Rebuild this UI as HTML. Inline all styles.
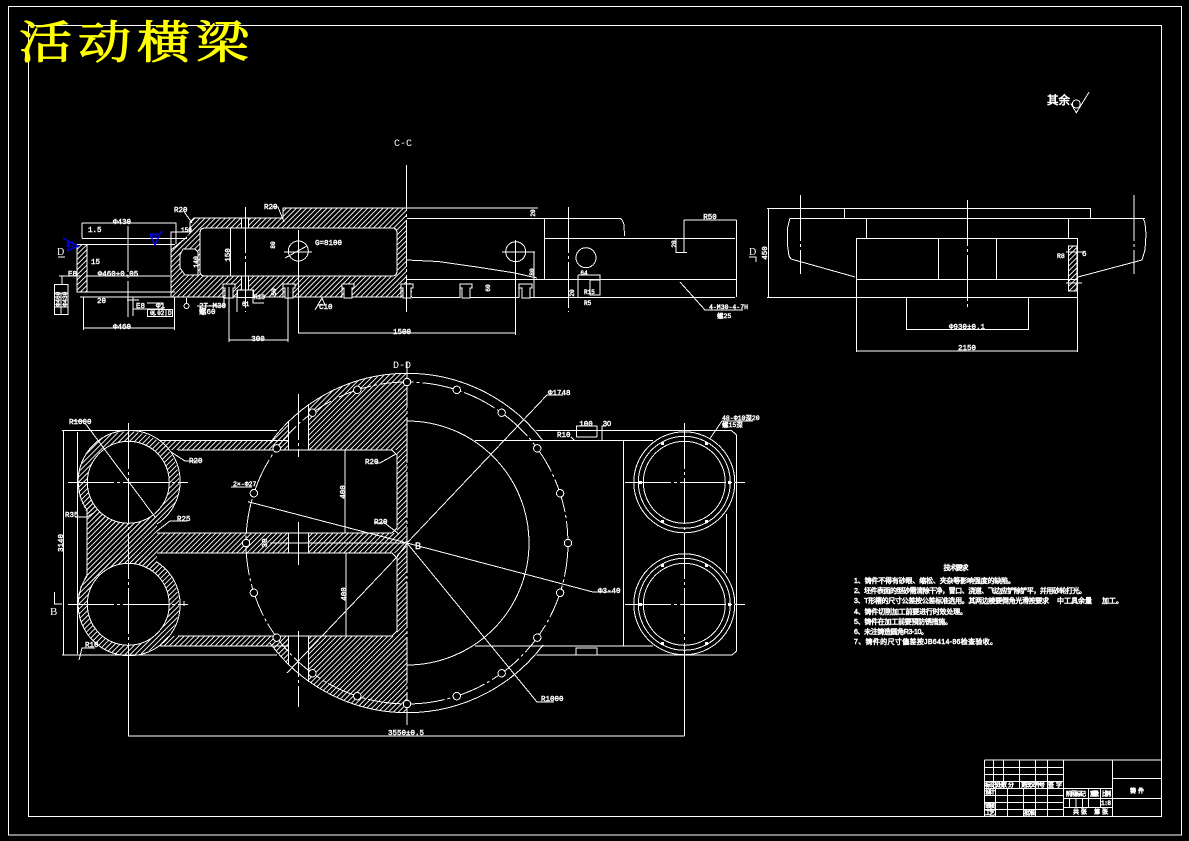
<!DOCTYPE html>
<html><head><meta charset="utf-8"><title>活动横梁</title>
<style>
html,body{margin:0;padding:0;background:#000;width:1189px;height:841px;overflow:hidden}
svg{display:block}
.l{fill:none;stroke:#fff;stroke-width:1}
.c{fill:none;stroke:#fff;stroke-width:1;stroke-dasharray:46 3 3 3}
.k{fill:#000;stroke:#fff;stroke-width:1}
.t{font-family:"Liberation Mono","Noto Sans CJK SC",monospace;font-size:7.5px;fill:#fff;stroke:#fff;stroke-width:.45}
.m{text-anchor:middle}
.cn{font-family:"Liberation Sans","Noto Sans CJK SC",sans-serif;font-size:7px;fill:#fff;stroke:#fff;stroke-width:.55}
.s{font-family:"Liberation Serif",serif;fill:#fff}
</style></head><body>
<svg width="1189" height="841" viewBox="0 0 1189 841" xmlns="http://www.w3.org/2000/svg" shape-rendering="crispEdges">
<defs>
<pattern id="h" width="3.6" height="3.6" patternUnits="userSpaceOnUse" patternTransform="rotate(45)">
<rect x="0" y="0" width="1" height="3.6" fill="#fff"/>
</pattern>
<g id="b"><circle cx="568" cy="543" r="3.7" class="k"/></g>
</defs>
<rect width="1189" height="841" fill="#000"/>
<!-- frames -->
<rect x="8.5" y="6.5" width="1173" height="828.5" class="l"/>
<rect x="28.5" y="25.5" width="1133" height="791" class="l"/>

<!-- title -->
<text transform="translate(19,58) scale(1.18,1)" letter-spacing="5" style="font-family:'Liberation Serif','Noto Serif CJK SC',serif;font-size:45px;fill:#ff0;stroke:#ff0;stroke-width:1">活动横梁</text>

<!-- roughness -->
<text x="1047" y="104" style="font-family:'Liberation Sans','Noto Sans CJK SC',sans-serif;font-size:11.5px;fill:#fff;stroke:#fff;stroke-width:.6">其余</text>
<circle cx="1076.3" cy="104" r="4" class="l"/>
<path d="M1070.7,103.3 L1076.3,112.7 L1089,92.3" class="l"/>

<text x="403" y="146" class="s m" font-size="10" style="font-family:'Liberation Mono',monospace">C-C</text>
<text x="402" y="368" class="s m" font-size="10" style="font-family:'Liberation Mono',monospace">D-D</text>

<!-- ================= C-C section ================= -->
<g fill="url(#h)">
<path d="M190,222 L194,218 L283,218 L283,208 L407,208 L407,283 L412,283 L412,297 L171,297 L171,250 L187,237 L190,232 Z"/>
<rect x="77" y="245" width="10" height="47"/>
</g>
<!-- cavities -->
<path d="M205,228 H392 Q397,228 397,233 V271 Q397,276 392,276 H205 Q200,276 200,271 V233 Q200,228 205,228Z" class="k"/>
<path d="M183,249 H195 L198,252 V275 H185 L180,268 V255Z" class="k"/>
<!-- outlines -->
<path d="M171,297 V232 H190 V222 L194,218 H283 V208 H538" class="l"/>
<path d="M171,250 L187,237" class="l"/>
<path d="M407,218.3 H620 Q623,220 624,225 L624.5,236" class="l"/>
<path d="M544.3,218 V279.3" class="l"/>
<path d="M544,238.3 H735" class="l"/>
<path d="M407,279.3 H736.7 M736.7,220 V297" class="l"/>
<path d="M407,260 L438,261.5 L477,267 L515,273 L537,278" class="l"/>
<!-- T-slots -->
<g class="k">
<path d="M223,298 V284 H235 V288 H233 V298 H225 V288 H223Z"/>
<path d="M283,298 V284 H295 V288 H293 V298 H285 V288 H283Z"/>
<path d="M342,298 V284 H354 V288 H352 V298 H344 V288 H342Z"/>
<path d="M401,298 V284 H413 V288 H411 V298 H403 V288 H401Z"/>
<path d="M460,298 V284 H472 V288 H470 V298 H462 V288 H460Z"/>
<path d="M519,298 V284 H532 V288 H530 V298 H522 V288 H519Z"/>
</g>
<path d="M412,297.3 H460 M470,297.3 H519 M530,297.3 H735" class="l"/>
<path d="M171,297 H223 M233,297 H283 M293,297 H342 M352,297 H401" class="l"/>
<!-- bolt hole in section -->
<rect x="241.7" y="218" width="6.6" height="10" class="k"/>
<rect x="241.7" y="276" width="6.6" height="14" class="k"/>
<rect x="237.5" y="290" width="16" height="7.5" class="k"/>
<path d="M230.7,228 V276" class="l"/>
<!-- left tube -->
<path d="M82,238.3 H187 M77,244.3 H175 M87,244 V292 M77,245 V292 L80,292 M80,292 H175 M80,297 H175 M87,276 H170" class="l"/>
<path d="M82,223 H176.5 M82,223 V238 M176,223 V244" class="l"/>
<path d="M83.5,328 H174.5 M83.5,297 V330 M174.5,297 V330" class="l"/>
<path d="M128,226 V317" class="c"/>
<!-- circle & centres -->
<circle cx="298.3" cy="251" r="10" class="k"/>
<path d="M284,252 H312 M285,258 L307,246" class="l"/>
<path d="M298.3,230 V333 M298,333 H516" class="l"/>
<path d="M245.3,207 V312" class="c"/>
<path d="M406.7,165 V312" class="c"/>
<circle cx="515.7" cy="251.7" r="10" class="l"/>
<path d="M502,252 H535 M534,252 V297 M515.7,240 V335" class="l"/>
<circle cx="586" cy="257.7" r="10" class="l"/>
<path d="M568.3,207 V312" class="c"/>
<path d="M229,287 V342 M288,287 V342 M229,340 H288" class="l"/>
<path d="M684,220 H736.7 M684,220 V253 M676,238 V252.5 H687" class="l"/>
<path d="M680,282 L705,310 H743" class="l"/>
<path d="M578,275 H600 V295 M578,275 V297 M590,280 H600 V295 H590Z" class="l"/>
<!-- leaders -->
<path d="M183,210 L192,223 M272,207 H278 L284,222" class="l"/>
<path d="M59,276 H81 M62,276 V284" class="l"/>
<rect x="54.5" y="284.5" width="13.5" height="30" class="l"/>
<path d="M54,293 H68 M61,293 V314 M54,307 H68" class="l"/>
<path d="M133,298 V316 M127,300 H139" class="l"/>
<path d="M133,297 V309 H147 M147,303 H163 V309 H147" class="l"/>
<rect x="147.5" y="309.5" width="25" height="7" class="l"/>
<path d="M154,309 V316 M166,309 V316" class="l"/>
<circle cx="186.5" cy="306" r="2.5" class="l"/>
<path d="M186.5,298 V303" class="l"/>
<path d="M197,306 H224 L224,297" class="l"/>
<path d="M237,290 V312 M253,290 V303 H264" class="l"/>
<path d="M315,310 L322,298 L325,305 H317" class="l"/>
<!-- blue -->
<path d="M150,234 L155,245 L160,234 Z M160,234 L162,231" fill="none" stroke="#00f" stroke-width="1.3"/>
<path d="M63,238 L78,246 L67,251 M68,240 V251" fill="none" stroke="#00f" stroke-width="1.3"/>
<text x="66" y="247" style="font-family:'Liberation Mono',monospace;font-size:7px;fill:#00f;stroke:#00f;stroke-width:.3">32</text>
<text x="150" y="238" style="font-family:'Liberation Mono',monospace;font-size:6px;fill:#00f;stroke:#00f;stroke-width:.3">32</text>
<!-- D markers -->
<text x="57" y="255" class="s" font-size="10">D</text>
<path d="M58,257 H65" class="l"/>
<text x="749" y="255" class="s" font-size="10">D</text>
<path d="M749,257 H756 V262" class="l"/>
<!-- labels -->
<g class="t">
<text x="174" y="212">R20</text><text x="264" y="209">R20</text><text x="181" y="232" font-size="6">150</text>
<text x="315" y="245">G=8100</text>
<text x="122" y="224" class="m">Φ430</text><text x="122" y="329" class="m">Φ460</text>
<text x="118" y="276" class="m">Φ460+0.05</text>
<text x="91" y="264">15</text><text x="88" y="232">1.5</text><text x="97" y="303">20</text>
<text x="68" y="276">E8</text><text x="136" y="308">E8</text><text x="156" y="308">Φ1</text>
<text x="150" y="315" font-size="6">0.02</text><text x="168" y="315" font-size="6">D</text>
<text x="199" y="308">2T-M30</text><text x="199" y="314">螺60</text>
<text x="242" y="306" font-size="6">61</text><text x="254" y="299" font-size="6">R13</text>
<text x="319" y="309">C10</text>
<text x="402" y="334" class="m">1500</text>
<text x="258" y="341" class="m">300</text>
<text x="710" y="219" class="m">R50</text>
<text x="709" y="309" font-size="6.5">4-M30-4-7H</text><text x="717" y="318" font-size="6.5">螺25</text>
<text x="584" y="275" class="m" font-size="6">64</text>
<text x="584" y="294" font-size="6">R15</text><text x="584" y="305" font-size="6">R5</text>
<text transform="translate(230,255) rotate(-90)" class="m">150</text>
<text transform="translate(198,262) rotate(-90)" class="m" font-size="6.5">140</text>
<text transform="translate(275,245) rotate(-90)" class="m" font-size="6">80</text>
<text transform="translate(490,288) rotate(-90)" class="m" font-size="6">60</text>
<text transform="translate(534,272) rotate(-90)" class="m" font-size="6">80</text>
<text transform="translate(535,213) rotate(-90)" class="m" font-size="6">20</text>
<text transform="translate(676,244) rotate(-90)" class="m" font-size="6">20</text>
<text transform="translate(574,293) rotate(-90)" class="m" font-size="6">20</text>
<text transform="translate(60,299) rotate(-90)" class="m" font-size="6">Φ460</text>
<text transform="translate(67,299) rotate(-90)" class="m" font-size="6">Φ430</text>
<text transform="translate(276,292) rotate(-90)" class="m" font-size="6">50</text>
</g>

<!-- ================= right end view ================= -->
<g class="l">
<path d="M767,208.3 H1090.7 M768.3,208 V297.5 M767,297.3 H1077.7"/>
<path d="M790,218.3 H1145 M844.3,208 V218 M1090.7,208 V218 M866.7,218 V238 M1068.3,218 V238"/>
<rect x="856.3" y="238.3" width="221.4" height="41"/>
<path d="M856.3,279 V352 M1077.7,279 V352 M938.3,238 V279 M996.3,238 V279"/>
<path d="M906.3,297 V330 M1028.3,297 V330 M906,329.3 H1028.5 M856,351 H1078"/>
<path d="M790,218 L787.5,228 L787.5,245 L789,256 L791,259 L855,277"/>
<path d="M1143,218 L1145,223 L1146,234 L1145,250 L1142,260 L1078,277"/>
</g>
<rect x="1068.3" y="246" width="9" height="45" fill="url(#h)"/>
<path d="M1068.3,246 H1077 V291 H1068.3 Z M1066,252 H1083 M1066,283 H1082" class="l"/>
<path d="M967.3,200 V307" class="c"/>
<path d="M800.7,195 V274 M1134,195 V274" class="c"/>
<g class="t">
<text transform="translate(767,253) rotate(-90)" class="m">450</text>
<text x="967" y="329" class="m">Φ930±0.1</text>
<text x="967" y="350" class="m">2150</text>
<text x="1082" y="256">6</text>
<text x="1057" y="258" font-size="6.5">R8</text>
</g>

<!-- ================= D-D plan view ================= -->
<g fill="url(#h)">
<circle cx="128.3" cy="482.3" r="51"/>
<circle cx="128.3" cy="604.3" r="51"/>
<rect x="87" y="482" width="70" height="122"/>
<rect x="160" y="441" width="128" height="9"/>
<rect x="160" y="636" width="128" height="10"/>
<rect x="157" y="533" width="131" height="20"/>
<rect x="308" y="533" width="89" height="20"/>
<path d="M308,405 A170,170 0 0 1 407,373 L407,450 L308,450Z"/>
<rect x="397" y="450" width="10" height="186"/>
<path d="M308,636 L407,636 L407,713 A170,170 0 0 1 308,681Z"/>
<path d="M288,441 L288,422 A170,170 0 0 0 270,443Z"/>
<path d="M288,645 L288,664 A170,170 0 0 1 270,643Z"/>
</g>
<!-- bores -->
<circle cx="128.3" cy="482.3" r="41" class="k"/>
<circle cx="128.3" cy="604.3" r="41" class="k"/>
<g class="l">
<path d="M87,510 A51,51 0 1 1 157,524 M87,576 A51,51 0 1 0 157,562"/>
<path d="M87,510 V576 M77.7,432 V654"/>
<path d="M62,430.7 H277 M62,655 H277 M63.3,431 V655"/>
<path d="M160,440.7 H288 M160,646 H288"/>
<path d="M178,450 H392 L397,455 V528 L392,533 H157"/>
<path d="M157,553 H392 L397,558 V631 L392,636 H178"/>
<path d="M288.3,422 V450 M308.3,404 V450 M288.3,636 V664 M308.3,636 V682 M288.3,533 V553 M308.3,533 V553"/>
<path d="M270,543 H407"/>
<path d="M345,450 V533 M346,553 V636"/>
<!-- big arcs -->
<path d="M270,443 A170,170 0 0 1 543,441 M270,643 A170,170 0 0 0 543,645"/>
<path d="M407,421 A122,122 0 0 1 407,665"/>
<!-- right body -->
<path d="M536.7,430.7 H731.7 L736.7,435 V651 L732,655 H536.7"/>
<path d="M475,440.7 H653 M475,646 H653 M623.3,441 V646 M726.7,514 V573"/>
<path d="M576.5,437 V426 H597 V437 M576.5,437 H597 M602,441 V426 H606 M576,655 V648 H597 V655 M576,648 H597"/>
<path d="M571,437 L575,441"/>
<!-- dims / leaders -->
<path d="M128.3,655 V736 M684.3,655 V736 M128,736 H684.5"/>
<path d="M407,543 L547,395 H563"/>
<path d="M407,543 L537,702 H554"/>
<path d="M407,543 L593,592 H613"/>
<path d="M248,501.7 L407,543"/>
<path d="M287,673 L397,557 L407,543"/>
<path d="M85,423 L155,517"/>
<path d="M72,421 H85"/>
<path d="M171,452 L185,461 H199"/>
<path d="M87,517 L95,512 M75,517 H87"/>
<path d="M157,531 L170,521 H187"/>
<path d="M79,660 L82,648 H95"/>
<path d="M376,463 H380 L396,454 M386,524 L399,534 M374,523 H386"/>
<path d="M231,487 H252"/>
<path d="M707,443 L722,421 H753"/>
<path d="M54.3,592 V604 H62"/>
</g>
<path d="M128.3,423 V655" class="c"/>
<path d="M68,482.3 H188 M68,604.3 H188" class="c"/>
<path d="M298.3,394 V457 M298.3,522 V565 M298.3,631 V707" class="c"/>
<path d="M407,362 V725" class="c"/>
<circle cx="407" cy="543" r="161" class="l" stroke-dasharray="34 3 3 3"/>
<!-- 20 bolts -->
<use href="#b"/><use href="#b" transform="rotate(18 407 543)"/><use href="#b" transform="rotate(36 407 543)"/><use href="#b" transform="rotate(54 407 543)"/><use href="#b" transform="rotate(72 407 543)"/><use href="#b" transform="rotate(90 407 543)"/><use href="#b" transform="rotate(108 407 543)"/><use href="#b" transform="rotate(126 407 543)"/><use href="#b" transform="rotate(144 407 543)"/><use href="#b" transform="rotate(162 407 543)"/><use href="#b" transform="rotate(180 407 543)"/><use href="#b" transform="rotate(198 407 543)"/><use href="#b" transform="rotate(216 407 543)"/><use href="#b" transform="rotate(234 407 543)"/><use href="#b" transform="rotate(252 407 543)"/><use href="#b" transform="rotate(270 407 543)"/><use href="#b" transform="rotate(288 407 543)"/><use href="#b" transform="rotate(306 407 543)"/><use href="#b" transform="rotate(324 407 543)"/><use href="#b" transform="rotate(342 407 543)"/>
<!-- right circles -->
<g class="k">
<circle cx="684.3" cy="482.3" r="50.5"/><circle cx="684.3" cy="604.3" r="50.5"/>
</g>
<g class="l">
<circle cx="684.3" cy="482.3" r="46"/><circle cx="684.3" cy="482.3" r="41"/>
<circle cx="684.3" cy="604.3" r="46"/><circle cx="684.3" cy="604.3" r="41"/>
</g>
<path d="M625,482.3 H745 M625,604.3 H745" class="c"/>
<path d="M684.3,423 V655" class="c"/>
<g fill="#fff">
<rect x="639" y="481" width="3" height="3"/><rect x="728" y="481" width="3" height="3"/><rect x="661" y="442" width="3" height="3"/><rect x="705" y="442" width="3" height="3"/><rect x="661" y="520" width="3" height="3"/><rect x="705" y="520" width="3" height="3"/>
<rect x="639" y="603" width="3" height="3"/><rect x="728" y="603" width="3" height="3"/><rect x="661" y="564" width="3" height="3"/><rect x="705" y="564" width="3" height="3"/><rect x="661" y="642" width="3" height="3"/><rect x="705" y="642" width="3" height="3"/>
</g>
<g class="t">
<text x="69" y="424">R1000</text><text x="189" y="463">R20</text><text x="65" y="517">R35</text><text x="177" y="521">R25</text><text x="85" y="647">R10</text>
<text x="233" y="486" font-size="6.5">2×-Φ27</text><text x="365" y="464">R20</text><text x="374" y="524">R20</text>
<text transform="translate(345,492) rotate(-90)" class="m">400</text>
<text transform="translate(346,594) rotate(-90)" class="m">400</text>
<text transform="translate(63,543) rotate(-90)" class="m">3140</text>
<text transform="translate(267,543) rotate(-90)" class="m">30</text>
<text x="406" y="735" class="m">3550±0.5</text>
<text x="548" y="395">Φ1748</text><text x="598" y="593">Φ3-40</text><text x="541" y="701">R1000</text>
<text x="586" y="426" class="m">100</text><text x="607" y="426" class="m" style="font-family:'Liberation Sans',sans-serif">30</text>
<text x="557" y="437">R10</text>
<text x="722" y="420" font-size="6.5">48-Φ10深20</text><text x="722" y="427" font-size="6.5">螺15深</text>
<text x="415" y="549" font-size="9" style="font-family:'Liberation Sans',sans-serif">B</text>
</g>
<text x="50" y="615" class="s" font-size="11">B</text>
<path d="M184,601 V606" class="l"/>

<!-- ================= technical requirements ================= -->
<text x="956" y="570" class="cn m" textLength="25">技术要求</text>
<g class="cn">
<text x="854" y="583" textLength="161">1、铸件不得有砂眼、缩松、夹杂等影响强度的缺陷。</text>
<text x="854" y="593" textLength="232">2、坯件表面的型砂需清除干净，冒口、浇道、飞边应铲除铲平，并用砂轮打光。</text>
<text x="854" y="603" textLength="195">3、T形槽的尺寸公差按公差标准选用。其两边棱要倒角光滑按要求</text>
<text x="1057" y="603">中工具余量</text>
<text x="1102" y="603">加工。</text>
<text x="854" y="614" textLength="113">4、铸件切削加工前要进行时效处理。</text>
<text x="854" y="624" textLength="98">5、铸件在加工前要预防锈措施。</text>
<text x="854" y="634" textLength="74">6、未注铸造圆角R3-10。</text>
<text x="854" y="644" textLength="143">7、铸件的尺寸偏差按JB6414-86检查验收。</text>
</g>

<!-- ================= title block ================= -->
<g class="l">
<path d="M984.3,760 H1161 M984.3,760 V816 M1063.3,760 V816 M1112.3,760 V816"/>
<path d="M984.3,767.3 H1063.3 M984.3,774.3 H1063.3 M984.3,781.3 H1063.3 M984.3,788.3 H1063.3 M984.3,795.3 H1063.3 M984.3,802.3 H1063.3 M984.3,809.3 H1063.3"/>
<path d="M993.3,760 V788 M1003.3,760 V788 M1019.3,760 V788 M1035.3,760 V816 M1047.3,760 V816"/>
<path d="M995.3,788 V816 M1007.3,788 V816 M1023.3,788 V816"/>
<path d="M1063,788.3 H1112.3 M1063,798.3 H1161 M1063,807.3 H1112.3 M1112,778.3 H1161"/>
<path d="M1088.3,788 V807 M1100.7,788 V807 M1069.7,798 V807 M1076,798 V807 M1082.3,798 V807"/>
</g>
<g class="t" style="font-size:6px;stroke-width:.6">
<text x="985" y="787" textLength="22">标记处数</text><text x="1008" y="787">分</text><text x="1021" y="787" textLength="24">更改文件号</text><text x="1048" y="787" textLength="14">签字</text>
<text x="985" y="794" textLength="10">设计</text><text x="985" y="808" textLength="10">审核</text><text x="985" y="815" textLength="10">工艺</text>
<text x="1024" y="815" textLength="11">批准</text>
<text x="1066" y="796" textLength="20">阶段标记</text><text x="1090" y="796" textLength="9">重量</text><text x="1102" y="796" textLength="9">比例</text>
<text x="1101" y="805" textLength="10">1:8</text>
<text x="1073" y="814" textLength="35">共张 第张</text>
<text x="1130" y="793" textLength="14">铸件</text>
</g>
</svg>
</body></html>
